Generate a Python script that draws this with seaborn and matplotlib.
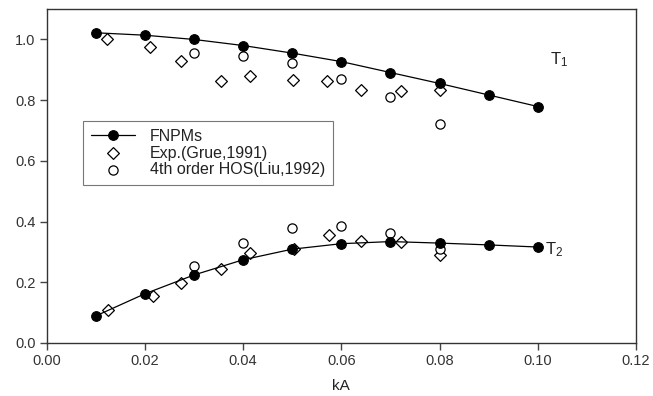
import matplotlib
matplotlib.use("Agg")
import matplotlib.pyplot as plt
import seaborn as sns
import pandas as pd
import numpy as np

# ---- data ----
ka_fnpm = [0.01, 0.02, 0.03, 0.04, 0.05, 0.06, 0.07, 0.08, 0.09, 0.10]
t1_fnpm = [1.022, 1.014, 1.000, 0.980, 0.955, 0.927, 0.891, 0.855, 0.817, 0.779]
t2_fnpm = [0.089, 0.162, 0.224, 0.274, 0.309, 0.327, 0.334, 0.329, 0.323, 0.316]

ka_exp_t1 = [0.0122, 0.021, 0.0273, 0.0354, 0.0413, 0.0502, 0.057, 0.0640, 0.0721, 0.080]
t1_exp = [1.000, 0.975, 0.928, 0.862, 0.881, 0.866, 0.862, 0.834, 0.829, 0.833]
ka_exp_t2 = [0.0125, 0.0217, 0.0273, 0.0354, 0.0413, 0.0504, 0.0574, 0.0640, 0.0721, 0.080]
t2_exp = [0.109, 0.155, 0.199, 0.243, 0.296, 0.309, 0.356, 0.337, 0.333, 0.289]

ka_hos = [0.030, 0.040, 0.050, 0.060, 0.070, 0.080]
t1_hos = [0.954, 0.945, 0.923, 0.871, 0.811, 0.723]
t2_hos = [0.254, 0.329, 0.379, 0.386, 0.362, 0.309]

xticks = [0.00, 0.02, 0.04, 0.06, 0.08, 0.10, 0.12]
yticks = [0.0, 0.2, 0.4, 0.6, 0.8, 1.0]
labels = ["FNPMs", "Exp.(Grue,1991)", "4th order HOS(Liu,1992)"]

# ---- style ----
sns.set_style("white")
plt.rcParams['font.family'] = ['Liberation Sans', 'DejaVu Sans']
plt.rcParams['mathtext.fontset'] = 'custom'
plt.rcParams['mathtext.rm'] = 'Liberation Sans'
plt.rcParams['mathtext.it'] = 'Liberation Sans'

fig = plt.figure(figsize=(6.53, 3.96), dpi=100)
ax = fig.add_axes([0.0715, 0.134, 0.9025, 0.843])

fn1 = pd.DataFrame({"kA": ka_fnpm, "T": t1_fnpm})
fn2 = pd.DataFrame({"kA": ka_fnpm, "T": t2_fnpm})
ex1 = pd.DataFrame({"kA": ka_exp_t1, "T": t1_exp})
ex2 = pd.DataFrame({"kA": ka_exp_t2, "T": t2_exp})
ho1 = pd.DataFrame({"kA": ka_hos, "T": t1_hos})
ho2 = pd.DataFrame({"kA": ka_hos, "T": t2_hos})

line_kw = dict(color="black", linewidth=0.9, marker="o", markersize=7,
               markerfacecolor="black", markeredgecolor="black")
for i, d in enumerate([fn1, fn2]):
    sns.lineplot(data=d, x="kA", y="T", ax=ax, zorder=3,
                 label=labels[0] if i == 0 else None, legend=False, **line_kw)

for i, d in enumerate([ex1, ex2]):
    sns.scatterplot(data=d, x="kA", y="T", ax=ax, marker="D", s=36,
                    facecolor="white", edgecolor="black", linewidth=0.9, zorder=2,
                    label=labels[1] if i == 0 else None, legend=False)
for i, d in enumerate([ho1, ho2]):
    sns.scatterplot(data=d, x="kA", y="T", ax=ax, marker="o", s=44,
                    facecolor="white", edgecolor="black", linewidth=0.9, zorder=2,
                    label=labels[2] if i == 0 else None, legend=False)

ax.set_xlim(0, 0.12)
ax.set_ylim(0, 1.1)
ax.set_xticks(xticks)
ax.set_xticklabels([f"{v:.2f}" for v in xticks])
ax.set_yticks(yticks)
ax.set_yticklabels([f"{v:.1f}" for v in yticks])
ax.tick_params(axis="both", direction="out", length=5, width=1, color="#444444",
               labelsize=10.5, labelcolor="#333333", bottom=True, left=True, pad=3)
for s in ax.spines.values():
    s.set_color("#333333")
    s.set_linewidth(1.0)
ax.set_xlabel("kA", fontsize=11, color="#222222", labelpad=8)
ax.set_ylabel("")

ax.text(0.1025, 0.935, r"$\mathregular{T_1}$", fontsize=12, color="#222222",
        ha="left", va="center")
ax.text(0.1015, 0.308, r"$\mathregular{T_2}$", fontsize=12, color="#222222",
        ha="left", va="center")

handles, labs = ax.get_legend_handles_labels()
leg = ax.legend(handles, labs, loc="upper left", bbox_to_anchor=(0.061, 0.666),
                borderaxespad=0, frameon=True, fancybox=False, fontsize=11.5,
                handlelength=2.8, labelspacing=0.12, borderpad=0.5,
                handletextpad=0.9)
leg.get_frame().set_edgecolor("#555555")
leg.get_frame().set_linewidth(0.8)
leg.get_frame().set_boxstyle("square", pad=0.0)
leg._legend_box.sep = 3
for t in leg.get_texts():
    t.set_color("#222222")

fig.savefig("out.png", dpi=100)
